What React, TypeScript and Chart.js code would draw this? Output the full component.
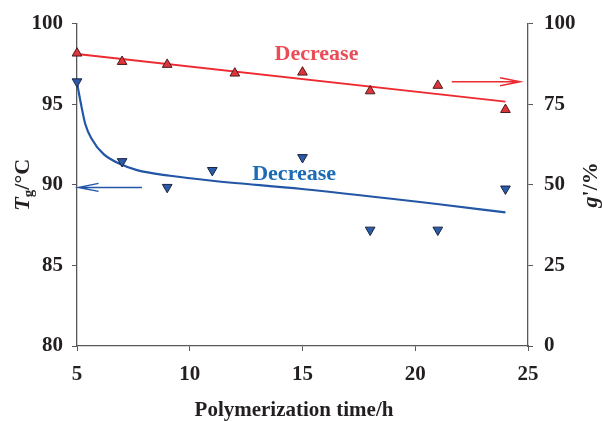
import React, { useEffect, useRef } from "react";
import { Chart, registerables } from "chart.js";

Chart.register(...registerables);

// Polymerization time (h)
const gTimes = [5, 7, 9, 12, 15, 18, 21, 24];
const gValues = [90.8, 88.2, 87.3, 84.6, 84.9, 79.1, 80.8, 73.3]; // g' / %
const tgTimes = [5, 7, 9, 11, 15, 18, 21, 24];
const tgValues = [96.4, 91.45, 89.85, 90.9, 91.7, 87.2, 87.2, 89.75]; // Tg / °C

// red linear trend (g')
const gTrendX = [5, 24];
const gTrendY = [90.6, 75.8];

// blue fitted curve (Tg)
const tgCurveX = [5.0, 5.15, 5.37, 5.66, 6.18, 6.92, 7.66, 9.13, 11.0, 14.98, 20.96, 24.0];
const tgCurveY = [96.33, 95.2, 93.76, 92.83, 91.9, 91.29, 90.91, 90.56, 90.25, 89.74, 88.81, 88.29];

const xTicks = [5, 10, 15, 20, 25];
const leftTicks = [80, 85, 90, 95, 100];
const rightTicks = [0, 25, 50, 75, 100];

const SERIF = '"Liberation Serif", "Times New Roman", serif';
const TEXT = "#231f20";
const AXIS = "#58595b";
const RED_LINE = "#ee2a30";
const RED_FILL = "#e0343b";
const RED_TEXT = "#eb4d58";
const BLUE_LINE = "#2356a6";
const BLUE_FILL = "#2a5aa8";
const BLUE_TEXT = "#1b6cb4";

type Run = { t: string; font: string; dy?: number };

function drawRuns(ctx: CanvasRenderingContext2D, runs: Run[], cx: number, cy: number, rot: number, color: string) {
  ctx.save();
  ctx.translate(cx, cy);
  ctx.rotate(rot);
  ctx.fillStyle = color;
  ctx.textBaseline = "alphabetic";
  ctx.textAlign = "left";
  let total = 0;
  const widths = runs.map((r) => {
    ctx.font = r.font;
    const w = ctx.measureText(r.t).width;
    total += w;
    return w;
  });
  let x = -total / 2;
  runs.forEach((r, i) => {
    ctx.font = r.font;
    ctx.fillText(r.t, x, 7 + (r.dy || 0));
    x += widths[i];
  });
  ctx.restore();
}

function arrow(ctx: CanvasRenderingContext2D, x1: number, y: number, x2: number, color: string) {
  const dir = x2 > x1 ? 1 : -1;
  ctx.save();
  ctx.strokeStyle = color;
  ctx.lineWidth = 1.5;
  ctx.beginPath();
  ctx.moveTo(x1, y);
  ctx.lineTo(x2, y);
  ctx.moveTo(x2 - dir * 20, y - 4);
  ctx.lineTo(x2, y);
  ctx.lineTo(x2 - dir * 20, y + 4);
  ctx.stroke();
  ctx.restore();
}

const annotations = {
  id: "annotations",
  afterDatasetsDraw(chart: any) {
    const { ctx, scales, chartArea } = chart;
    const x = scales.x, y = scales.y, y1 = scales.y1;
    // arrows
    arrow(ctx, x.getPixelForValue(21.62), y1.getPixelForValue(81.95), x.getPixelForValue(24.65), RED_LINE);
    arrow(ctx, x.getPixelForValue(7.88), y.getPixelForValue(89.84), x.getPixelForValue(5.07), BLUE_LINE);
    // labels
    ctx.save();
    ctx.font = `bold 22px ${SERIF}`;
    ctx.textAlign = "center";
    ctx.textBaseline = "middle";
    ctx.fillStyle = RED_TEXT;
    ctx.fillText("Decrease", x.getPixelForValue(15.62), y.getPixelForValue(98.08));
    ctx.fillStyle = BLUE_TEXT;
    ctx.fillText("Decrease", x.getPixelForValue(14.63), y.getPixelForValue(90.66));
    ctx.restore();
    // axis titles
    const midY = (chartArea.top + chartArea.bottom) / 2;
    drawRuns(ctx, [
      { t: "T", font: `italic bold 22px ${SERIF}` },
      { t: "g", font: `bold 15px ${SERIF}`, dy: 4 },
      { t: "/°C", font: `bold 22px ${SERIF}` },
    ], 22, midY, -Math.PI / 2, TEXT);
    drawRuns(ctx, [
      { t: "g", font: `italic bold 22px ${SERIF}` },
      { t: "'/%", font: `bold 22px ${SERIF}` },
    ], 590, midY, -Math.PI / 2, TEXT);
    drawRuns(ctx, [{ t: "Polymerization time/h", font: `bold 21px ${SERIF}` }], 294, 409, 0, TEXT);
  },
};

export default function App() {
  const ref = useRef<HTMLCanvasElement | null>(null);
  useEffect(() => {
    if (!ref.current) return;
    const tickFont = { family: SERIF, size: 21, weight: "bold" as const };
    const chart = new Chart(ref.current, {
      type: "line",
      data: {
        datasets: [
          {
            label: "g'",
            data: gTimes.map((t, i) => ({ x: t, y: gValues[i] })),
            yAxisID: "y1",
            showLine: false,
            pointStyle: "triangle",
            pointRadius: 5.6,
            pointBackgroundColor: RED_FILL,
            pointBorderColor: "#4a1c1c",
            pointBorderWidth: 1,
            clip: false as any,
            order: 0,
          },
          {
            label: "Tg",
            data: tgTimes.map((t, i) => ({ x: t, y: tgValues[i] })),
            yAxisID: "y",
            showLine: false,
            pointStyle: "triangle",
            rotation: 180,
            pointRadius: 5.6,
            pointBackgroundColor: BLUE_FILL,
            pointBorderColor: "#1c2540",
            pointBorderWidth: 1,
            clip: false as any,
            order: 0,
          },
          {
            label: "g' trend",
            data: gTrendX.map((t, i) => ({ x: t, y: gTrendY[i] })),
            yAxisID: "y1",
            borderColor: RED_LINE,
            borderWidth: 2,
            pointRadius: 0,
            clip: false as any,
            order: 1,
          },
          {
            label: "Tg curve",
            data: tgCurveX.map((t, i) => ({ x: t, y: tgCurveY[i] })),
            yAxisID: "y",
            borderColor: BLUE_LINE,
            borderWidth: 2.2,
            pointRadius: 0,
            cubicInterpolationMode: "monotone",
            clip: false as any,
            order: 1,
          },
        ],
      },
      options: {
        responsive: false,
        animation: false,
        layout: { padding: { top: 22, left: 0, right: 0, bottom: 0 } },
        plugins: { legend: { display: false }, tooltip: { enabled: false }, title: { display: false } },
        scales: {
          x: {
            type: "linear",
            min: 5,
            max: 25,
            afterBuildTicks: (s: any) => { s.ticks = xTicks.map((v) => ({ value: v })); },
            afterFit: (s: any) => { s.height = 75; },
            ticks: { font: tickFont, color: TEXT, padding: 11, maxRotation: 0 },
            grid: { drawOnChartArea: false, drawTicks: true, tickLength: 5, color: AXIS },
            border: { display: true, color: AXIS, width: 1.3 },
          },
          y: {
            type: "linear",
            position: "left",
            min: 80,
            max: 100,
            afterBuildTicks: (s: any) => { s.ticks = leftTicks.map((v) => ({ value: v })); },
            afterFit: (s: any) => { s.width = 77; },
            ticks: { font: tickFont, color: TEXT, padding: 9 },
            grid: { drawOnChartArea: false, drawTicks: true, tickLength: 5, color: AXIS },
            border: { display: true, color: AXIS, width: 1.3 },
          },
          y1: {
            type: "linear",
            position: "right",
            min: 0,
            max: 100,
            afterBuildTicks: (s: any) => { s.ticks = rightTicks.map((v) => ({ value: v })); },
            afterFit: (s: any) => { s.width = 74; },
            ticks: { font: tickFont, color: TEXT, padding: 11 },
            grid: { drawOnChartArea: false, drawTicks: true, tickLength: 5, color: AXIS },
            border: { display: true, color: AXIS, width: 1.3 },
          },
        },
      },
      plugins: [annotations],
    });
    return () => chart.destroy();
  }, []);
  return (
    <div style={{ position: "absolute", left: 0, top: 0, width: 602, height: 421, background: "#fff" }}>
      <canvas ref={ref} width={602} height={421} style={{ width: 602, height: 421 }} />
    </div>
  );
}
